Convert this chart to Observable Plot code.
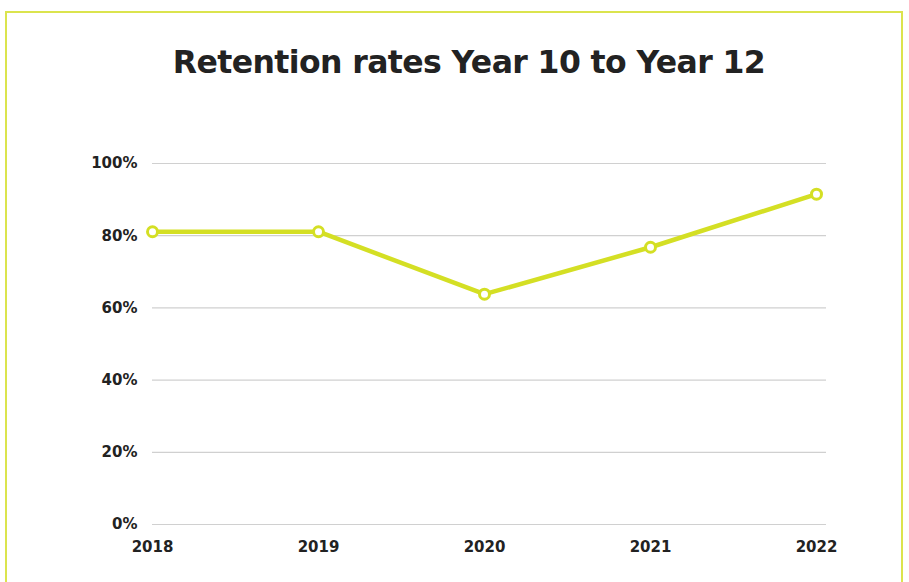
<!DOCTYPE html>
<html>
<head>
<meta charset="utf-8">
<script src="https://cdn.jsdelivr.net/npm/d3@7"></script>
<script src="https://cdn.jsdelivr.net/npm/@observablehq/plot@0.6"></script>
<style>
  html, body { margin: 0; padding: 0; background: #fff; overflow: hidden; }
  #wrap { position: relative; width: 909px; height: 582px; }
  #frame { position: absolute; left: 5px; top: 11px; width: 898px; height: 620px; border: 2px solid #dbe44e; box-sizing: border-box; }
  #title { position: absolute; left: 0; top: 44px; width: 938px; text-align: center; font-family: "DejaVu Sans", sans-serif; font-weight: bold; font-size: 31.5px; color: #222; letter-spacing: -0.6px; }
  #chart { position: absolute; left: 0; top: 130px; }
</style>
</head>
<body>
<div id="wrap">
  <div id="frame"></div>
  <div id="title">Retention rates Year 10 to Year 12</div>
  <div id="chart"></div>
</div>
<script>
const years = ["2018", "2019", "2020", "2021", "2022"];
const rates = [81.1, 81.1, 63.8, 76.8, 91.5];
const yTicks = [0, 20, 40, 60, 80, 100];

const data = years.map((y, i) => ({year: y, rate: rates[i]}));
const green = "#d4df24";

const plot = Plot.plot({
  width: 909,
  height: 452,
  marginLeft: 152,
  marginRight: 83,
  marginTop: 33,
  marginBottom: 58,
  style: {fontFamily: "DejaVu Sans, sans-serif", fontWeight: "bold", fontSize: "15px", color: "#222"},
  x: {type: "point", domain: years, padding: 0, insetRight: 10, label: null},
  y: {domain: [0, 100], ticks: yTicks, label: null},
  marks: [
    Plot.ruleY(yTicks, {stroke: "#d0d0d0", strokeWidth: 1.2}),
    Plot.axisY({ticks: yTicks, tickSize: 0, tickPadding: 15, tickFormat: d => d + "%", label: null, fontSize: 15, fontWeight: "bold"}),
    Plot.axisX({tickSize: 0, tickPadding: 17, label: null, fontSize: 15, fontWeight: "bold"}),
    Plot.line(data, {x: "year", y: "rate", stroke: green, strokeWidth: 4.5}),
    Plot.dot(data, {x: "year", y: "rate", r: 5, fill: "white", stroke: green, strokeWidth: 3})
  ]
});
document.getElementById("chart").appendChild(plot);
</script>
</body>
</html>
